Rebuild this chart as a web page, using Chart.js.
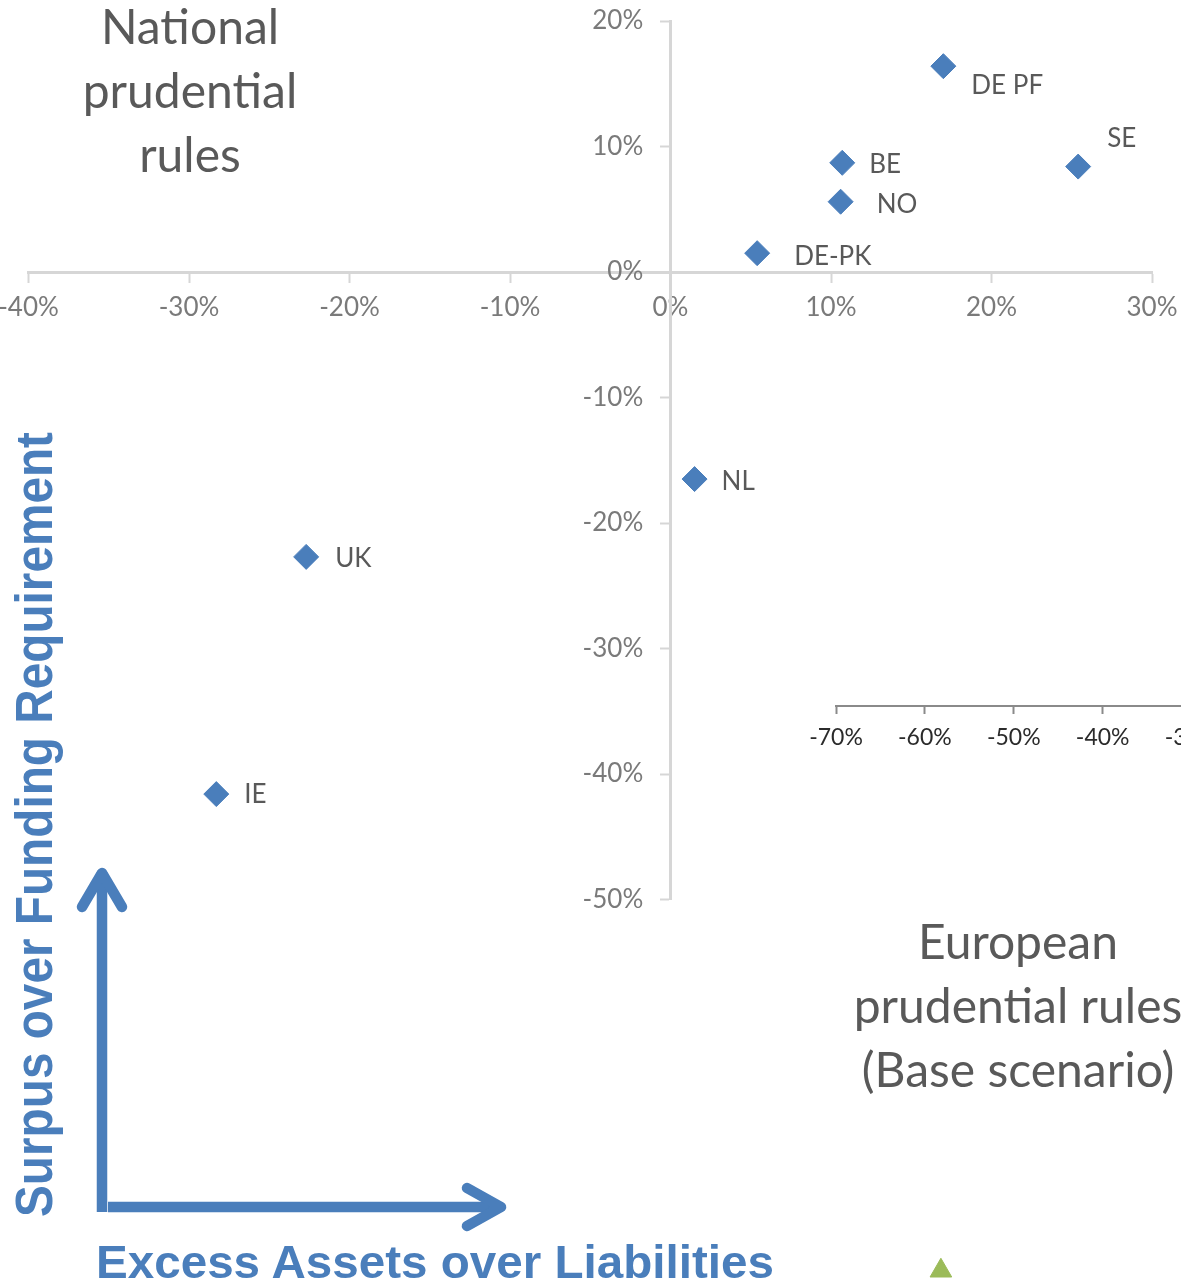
<!DOCTYPE html>
<html>
<head>
<meta charset="utf-8">
<title>Funding position of pension funds</title>
<script src="https://cdn.jsdelivr.net/npm/chart.js@4.4.1/dist/chart.umd.min.js"></script>
<style>
  html, body { margin: 0; padding: 0; background: #fff; }
  #stage { position: relative; width: 1181px; height: 1282px; overflow: hidden; background: #fff; }
  #euroChart, #mainChart { position: absolute; left: 0; top: 0; }
  .regime {
    position: absolute; text-align: center; white-space: nowrap;
    font-family: Lato, "Open Sans", sans-serif; font-size: 48px; line-height: 64px; color: #595959;
  }
  #arrows { position: absolute; left: 0; top: 0; }
</style>
</head>
<body>
<div id="stage">
  <canvas id="euroChart" width="1400" height="1400"></canvas>
  <canvas id="mainChart" width="1181" height="1282"></canvas>

  <div class="regime" style="left:0; top:-6px; width:380px;">National<br>prudential<br>rules</div>
  <div class="regime" style="left:768px; top:909px; width:500px;">European<br>prudential rules<br>(Base scenario)</div>

  <svg id="arrows" width="1181" height="1282" xmlns="http://www.w3.org/2000/svg">
    <g stroke="#4a7ebb" stroke-width="10.5" fill="none">
      <line x1="102" y1="1212" x2="102" y2="872" stroke-linecap="butt"/>
      <polyline points="82,907 102,873 122,907" stroke-linecap="round" stroke-linejoin="round"/>
      <line x1="108" y1="1207" x2="500" y2="1207" stroke-linecap="butt"/>
      <polyline points="467,1188 501,1207 467,1226" stroke-linecap="round" stroke-linejoin="round"/>
    </g>
    <g fill="#4a7ebb" font-family="'Liberation Sans', Arial, sans-serif" font-weight="bold">
      <text transform="translate(51.5,1217) rotate(-90)" font-size="51" textLength="785" lengthAdjust="spacingAndGlyphs">Surpus over Funding Requirement</text>
      <text x="96" y="1278" font-size="46" textLength="678" lengthAdjust="spacingAndGlyphs">Excess Assets over Liabilities</text>
    </g>
  </svg>
</div>

<script>
// National prudential rules: excess of assets over liabilities (x, %) against
// surplus over the funding requirement (y, %), by country / fund type.
const countries      = ['DE PF', 'SE', 'BE', 'NO', 'DE-PK', 'NL', 'UK', 'IE'];
const excessAssets   = [17.0, 25.4, 10.7, 10.6, 5.4, 1.5, -22.7, -28.3];
const fundingSurplus = [16.4, 8.4, 8.7, 5.6, 1.5, -16.5, -22.7, -41.6];

const xTickValues = [-40, -30, -20, -10, 0, 10, 20, 30];
const yTickValues = [-50, -40, -30, -20, -10, 0, 10, 20];

// European prudential rules (base scenario) panel
const euroExcess    = [-58.2];
const euroSurplus   = [-45.0];
const euroTickValues = [-70, -60, -50, -40, -30, -20];

const pct = v => v + '%';
const fixedTicks = values => scale => { scale.ticks = values.map(v => ({ value: v })); };
const noSpace = scale => {
  scale.width = scale.isHorizontal() ? scale.width : 0;
  scale.height = scale.isHorizontal() ? 0 : scale.height;
  scale.paddingLeft = scale.paddingRight = scale.paddingTop = scale.paddingBottom = 0;
};

// Writes each country code beside its marker.
const pointLabels = {
  id: 'pointLabels',
  afterDatasetsDraw(chart, args, opts) {
    const { ctx } = chart;
    const meta = chart.getDatasetMeta(0);
    ctx.save();
    ctx.font = opts.font;
    ctx.fillStyle = opts.color;
    ctx.textAlign = 'left';
    ctx.textBaseline = 'middle';
    meta.data.forEach((pt, i) => {
      const [dx, dy] = opts.offsets[countries[i]] || [28, 2];
      ctx.fillText(countries[i], pt.x + dx, pt.y + dy);
    });
    ctx.restore();
  }
};

Chart.defaults.font.family = 'Lato, "Open Sans", sans-serif';
Chart.defaults.animation = false;

const axisGrey = '#d6d6d6';
const tickFont = { size: 26 };

new Chart(document.getElementById('mainChart'), {
  type: 'scatter',
  data: {
    datasets: [{
      label: 'National prudential rules',
      data: excessAssets.map((x, i) => ({ x, y: fundingSurplus[i] })),
      pointStyle: 'rectRot',
      pointRadius: 12.5,
      pointHoverRadius: 12.5,
      backgroundColor: '#4a7ebb',
      borderColor: '#4a7ebb',
      borderWidth: 1
    }]
  },
  options: {
    responsive: false,
    events: [],
    layout: { padding: { left: 28.5, right: 29, top: 21, bottom: 382.5 } },
    plugins: {
      legend: { display: false },
      tooltip: { enabled: false },
      pointLabels: {
        font: '26px Lato, "Open Sans", sans-serif',
        color: '#595959',
        offsets: {
          'DE PF': [28, 19], 'SE': [29, -28], 'BE': [27, 2], 'NO': [36, 3],
          'DE-PK': [37, 3], 'NL': [27, 3], 'UK': [29, 2], 'IE': [28, 1]
        }
      }
    },
    scales: {
      x: {
        type: 'linear', min: -40, max: 30,
        position: { y: 0 },
        afterBuildTicks: fixedTicks(xTickValues),
        afterFit: noSpace,
        border: { display: true, color: axisGrey, width: 3 },
        grid: { display: true, drawOnChartArea: false, drawTicks: true, tickLength: 9, tickColor: axisGrey, tickWidth: 2 },
        ticks: { callback: pct, font: tickFont, color: '#7a7a7a', padding: 11, maxRotation: 0, autoSkip: false }
      },
      y: {
        type: 'linear', min: -50, max: 20,
        position: { x: 0 },
        afterBuildTicks: fixedTicks(yTickValues),
        afterFit: noSpace,
        border: { display: true, color: axisGrey, width: 3 },
        grid: { display: true, drawOnChartArea: false, drawTicks: true, tickLength: 9, tickColor: axisGrey, tickWidth: 2 },
        ticks: { display: false }
      },
      // tick captions for the vertical axis, set just left of it
      yCaptions: {
        type: 'linear', min: -50, max: 20,
        position: { x: -1.7 },
        afterBuildTicks: fixedTicks(yTickValues),
        afterFit: noSpace,
        border: { display: false },
        grid: { display: false },
        ticks: { callback: pct, font: tickFont, color: '#7a7a7a', padding: 0, autoSkip: false }
      }
    }
  },
  plugins: [pointLabels]
});

new Chart(document.getElementById('euroChart'), {
  type: 'scatter',
  data: {
    datasets: [{
      label: 'European prudential rules (Base scenario)',
      data: euroExcess.map((x, i) => ({ x, y: euroSurplus[i] })),
      pointStyle: 'triangle',
      pointRadius: 12.5,
      pointHoverRadius: 12.5,
      backgroundColor: '#9bbb59',
      borderColor: '#9bbb59',
      borderWidth: 1
    }]
  },
  options: {
    responsive: false,
    events: [],
    layout: { padding: { left: 836, right: 119.5, top: 455, bottom: 66.5 } },
    plugins: { legend: { display: false }, tooltip: { enabled: false } },
    scales: {
      x: {
        type: 'linear', min: -70, max: -20,
        position: { y: 0 },
        afterBuildTicks: fixedTicks(euroTickValues),
        afterFit: noSpace,
        border: { display: true, color: '#8a8a8a', width: 2 },
        grid: { display: true, drawOnChartArea: false, drawTicks: true, tickLength: 7, tickColor: '#8a8a8a', tickWidth: 2 },
        ticks: { callback: pct, font: { size: 23 }, color: '#2b2b2b', padding: 11, maxRotation: 0, autoSkip: false }
      },
      y: {
        type: 'linear', min: -50, max: 20,
        display: false
      }
    }
  }
});
</script>
</body>
</html>
